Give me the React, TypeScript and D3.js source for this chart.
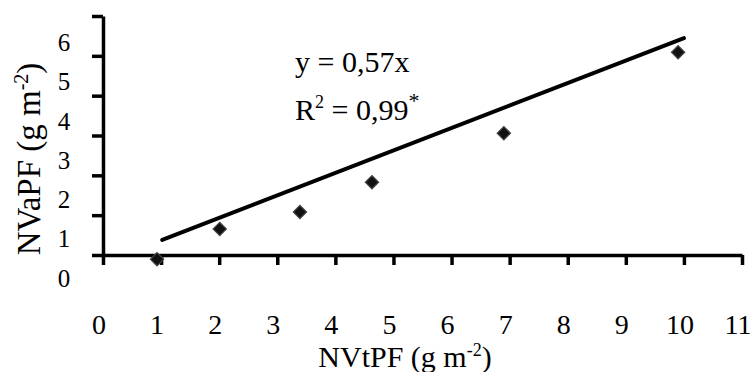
import { useEffect, useRef } from 'react';
import * as d3 from 'd3';

// measured points (NVtPF, NVaPF)
const nvtpf = [0.93, 2.01, 3.39, 4.63, 6.9, 9.9];
const nvapf = [0.48, 1.25, 1.68, 2.44, 3.69, 5.75];

// fitted line end points as drawn
const trendX = [1.02, 10.0];
const trendY = [0.97, 6.11];

const xTicks = [0, 1, 2, 3, 4, 5, 6, 7, 8, 9, 10, 11];
const yTicks = [0, 1, 2, 3, 4, 5, 6];

const FONT = '"Liberation Serif", "Times New Roman", serif';

const Chart = () => {
  const svgRef = useRef<SVGSVGElement>(null);

  useEffect(() => {
    const width = 750;
    const height = 372;

    const svg = d3.select(svgRef.current);
    svg.selectAll('*').remove();
    svg.attr('width', width).attr('height', height);

    // ----- scales -----
    const x = d3.scaleLinear().domain([0, 11]).range([103, 742]);
    // values / labels
    const y = d3.scaleLinear().domain([0, 6]).range([278, 42.5]);
    // axis tick marks (sit a bit above the labels, as in the original)
    const yAxisScale = d3.scaleLinear().domain([0, 6]).range([255, 16]);

    // ----- axes -----
    const gx = svg
      .append('g')
      .attr('transform', `translate(0,${yAxisScale(0)})`)
      .call(
        d3
          .axisBottom(x)
          .tickValues(xTicks)
          .tickSize(10)
          .tickSizeOuter(0)
          .tickFormat(() => '')
      );

    const gy = svg
      .append('g')
      .attr('transform', `translate(${x(0)},0)`)
      .call(
        d3
          .axisLeft(yAxisScale)
          .tickValues(yTicks)
          .tickSize(11)
          .tickSizeOuter(0)
          .tickFormat(() => '')
      );

    [gx, gy].forEach((g) => {
      g.select('.domain').attr('stroke', '#000').attr('stroke-width', 3.5);
      g.selectAll('.tick line')
        .attr('stroke', '#000')
        .attr('stroke-width', 3.5);
    });

    // tick labels
    svg.append('g')
      .selectAll('text')
      .data(xTicks)
      .enter()
      .append('text')
      .attr('x', (d) => x(d) - 4)
      .attr('y', 334)
      .attr('text-anchor', 'middle')
      .style('font-family', FONT)
      .style('font-size', '28px')
      .text((d) => d);

    svg.append('g')
      .selectAll('text')
      .data(yTicks)
      .enter()
      .append('text')
      .attr('x', 64)
      .attr('y', (d) => y(d) + 8.5)
      .attr('text-anchor', 'middle')
      .style('font-family', FONT)
      .style('font-size', '25px')
      .text((d) => d);

    // axis titles
    const xt = svg
      .append('text')
      .attr('x', 405)
      .attr('y', 367)
      .attr('text-anchor', 'middle')
      .style('font-family', FONT)
      .style('font-size', '30px');
    xt.append('tspan').text('NVtPF (g m');
    xt.append('tspan').attr('dy', -11).style('font-size', '18px').text('-2');
    xt.append('tspan').attr('dy', 11).text(')');

    const yt = svg
      .append('text')
      .attr('transform', 'translate(40,159) rotate(-90)')
      .attr('text-anchor', 'middle')
      .style('font-family', FONT)
      .style('font-size', '33px');
    yt.append('tspan').text('NVaPF (g m');
    yt.append('tspan').attr('dy', -12).style('font-size', '20px').text('-2');
    yt.append('tspan').attr('dy', 12).text(')');

    // trend line
    const line = d3
      .line<number>()
      .x((d, i) => x(trendX[i]))
      .y((d) => y(d));

    svg.append('path')
      .datum(trendY)
      .attr('d', line)
      .attr('fill', 'none')
      .attr('stroke', '#000')
      .attr('stroke-width', 4)
      .attr('stroke-linecap', 'round');

    // points
    const diamond = d3.symbol().type(d3.symbolSquare).size(88);
    svg.append('g')
      .selectAll('path')
      .data(nvtpf)
      .enter()
      .append('path')
      .attr('d', diamond)
      .attr(
        'transform',
        (d, i) => `translate(${x(d)},${y(nvapf[i])}) rotate(45)`
      )
      .attr('fill', '#111')
      .attr('stroke', '#444')
      .attr('stroke-width', 1.2);

    // equation
    svg.append('text')
      .attr('x', 295)
      .attr('y', 72)
      .style('font-family', FONT)
      .style('font-size', '30px')
      .text('y = 0,57x');

    const eq2 = svg
      .append('text')
      .attr('x', 295)
      .attr('y', 120)
      .style('font-family', FONT)
      .style('font-size', '30px');
    eq2.append('tspan').text('R');
    eq2.append('tspan').attr('dy', -12).style('font-size', '18px').text('2');
    eq2.append('tspan').attr('dy', 12).text(' = 0,99');
    eq2.append('tspan').attr('dy', -12).style('font-size', '22px').text('*');
  }, []);

  return <svg ref={svgRef} style={{ position: 'absolute', left: 0, top: 0, background: '#fff' }} />;
};

export default function App() {
  return <Chart />;
}
